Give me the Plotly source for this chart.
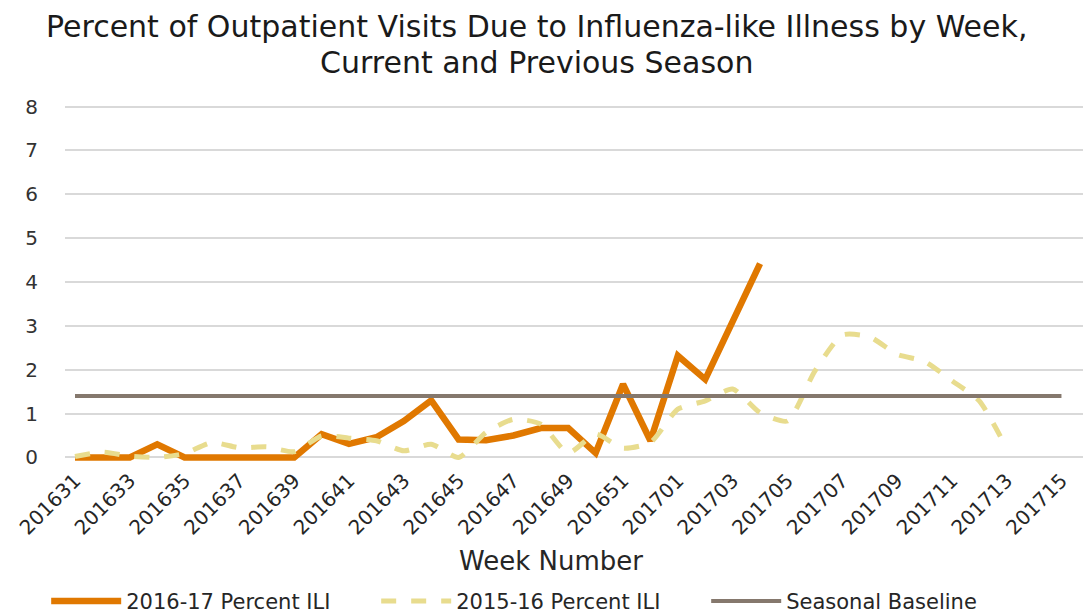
import plotly.graph_objects as go

weeks = [f"2016{w:02d}" for w in range(31, 53)] + [f"2017{w:02d}" for w in range(1, 16)]

ili_2016_17 = [0, 0, 0, 0.3, 0, 0, 0, 0, 0, 0.53, 0.31, 0.46, 0.83, 1.30, 0.41,
               0.39, 0.5, 0.67, 0.67, 0.1, 1.67, 0.38, 2.32, 1.78, 3.1, 4.42]
ili_2015_16 = [0.02, 0.12, 0.03, 0.0, 0.09, 0.34, 0.22, 0.24, 0.13, 0.49, 0.44,
               0.38, 0.15, 0.30, 0.0, 0.57, 0.87, 0.76, 0.1, 0.53, 0.21, 0.34,
               1.1, 1.29, 1.56, 1.02, 0.83, 1.97, 2.79, 2.75, 2.35, 2.19, 1.75,
               1.29, 0.21]
baseline_value = 1.4
baseline = [baseline_value] * len(weeks)

tick_labels = weeks[::2]
title_lines = ["Percent of Outpatient Visits Due to Influenza-like Illness by Week,",
               "Current and Previous Season"]
x_title = "Week Number"

idx = list(range(len(weeks)))
font = "DejaVu Sans"

fig = go.Figure()
fig.add_trace(go.Scatter(
    x=idx[:len(ili_2016_17)], y=ili_2016_17, mode="lines",
    name="2016-17 Percent ILI",
    line=dict(color="#E07800", width=6.5)))
fig.add_trace(go.Scatter(
    x=idx[:len(ili_2015_16)], y=ili_2015_16, mode="lines",
    name="2015-16 Percent ILI",
    line=dict(color="#E8DC8E", width=5, dash="dash", shape="spline", smoothing=0.6)))
fig.add_trace(go.Scatter(
    x=idx, y=baseline, mode="lines",
    name="Seasonal Baseline",
    line=dict(color="#85786D", width=4)))

plot_left, plot_w = 57, 1034
t_margin, b_margin = 92, 159
ph = 615 - t_margin - b_margin
rendered_bottom = 615 - b_margin + 7  # observed render offset

def px_x(p):
    return (p - plot_left) / plot_w

def px_y(p):
    return (rendered_bottom - p) / ph

for text, py in zip(title_lines, [25, 62]):
    fig.add_annotation(
        text=text, xref="paper", yref="paper",
        x=px_x(528), y=px_y(py),
        xanchor="center", yanchor="middle", showarrow=False,
        font=dict(size=30, family=font, color="#1a1a1a"))

fig.add_annotation(
    text=x_title, xref="paper", yref="paper",
    x=px_x(543), y=px_y(560), xanchor="center", yanchor="middle",
    showarrow=False, font=dict(size=26, family=font, color="#262626"))

fig.update_layout(
    width=1091, height=615,
    margin=dict(l=57, r=0, t=t_margin, b=b_margin),
    paper_bgcolor="white", plot_bgcolor="white",
    font=dict(family=font, color="#262626"),
    xaxis=dict(
        range=[-0.365, 37.37],
        tickmode="array", tickvals=idx[::2], ticktext=tick_labels,
        tickangle=-45, tickfont=dict(size=20, color="#262626"),
        showgrid=False, zeroline=False, showline=False, ticks=""),
    yaxis=dict(
        range=[-0.15, 8.15], tickvals=list(range(0, 9)),
        tickfont=dict(size=20, color="#333333"),
        showgrid=True, gridcolor="#D9D9D9", gridwidth=1.5,
        zeroline=False, showline=False, ticks="", ticklabelstandoff=26),
    legend=dict(
        orientation="h", xref="container", yref="container",
        x=0.035, y=0.035, xanchor="left", yanchor="middle",
        font=dict(size=21, color="#262626"),
        itemwidth=70, entrywidth=245, traceorder="normal"),
    showlegend=True,
)

fig.write_html("out.html")
